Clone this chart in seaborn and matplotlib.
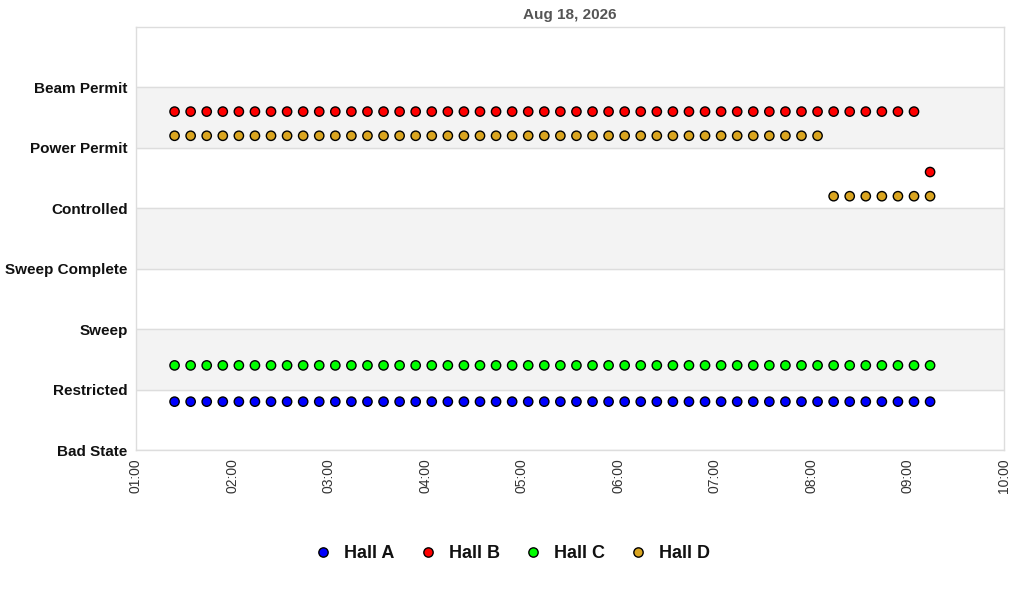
import matplotlib
matplotlib.use('Agg')
import matplotlib.pyplot as plt
import matplotlib.dates as mdates
import seaborn as sns
import pandas as pd

# states on the y axis, bottom to top
states = ['Bad State', 'Restricted', 'Sweep', 'Sweep Complete', 'Controlled', 'Power Permit', 'Beam Permit']

# samples every 10 minutes, 01:24 -> 09:14
start_time = '2026-08-18 01:24'
n_samples = 48

# (state, number of samples) runs per hall
hall_runs = {
    'Hall A': [('Restricted', 48)],
    'Hall B': [('Power Permit', 47), ('Controlled', 1)],
    'Hall C': [('Restricted', 48)],
    'Hall D': [('Power Permit', 41), ('Controlled', 7)],
}
# vertical offset of each hall inside a state row
hall_offsets = {'Hall A': -0.2, 'Hall B': 0.6, 'Hall C': 0.4, 'Hall D': 0.2}
hall_colors = {'Hall A': '#0000ff', 'Hall B': '#ff0000', 'Hall C': '#00ff00', 'Hall D': '#daa520'}

times = pd.date_range(start_time, periods=n_samples, freq='10min')
rows = []
for hall, runs in hall_runs.items():
    seq = [s for s, n in runs for _ in range(n)]
    for t, s in zip(times, seq):
        rows.append({'time': t, 'hall': hall, 'y': states.index(s) + hall_offsets[hall]})
df = pd.DataFrame(rows)

sns.set_style('white')
plt.rcParams['font.family'] = ['Liberation Sans', 'DejaVu Sans']

fig = plt.figure(figsize=(10.24, 6), dpi=100)
ax = fig.add_axes([0.1328, 0.25, 0.8477, 0.705])

for i in (1, 3, 5):
    ax.axhspan(i, i + 1, color='#f3f3f3', zorder=0)
for i in range(len(states)):
    ax.axhline(i, color='#dddddd', lw=1, zorder=1)

sns.scatterplot(data=df, x='time', y='y', hue='hall', palette=hall_colors, ax=ax,
                s=45, marker='o', edgecolor='black', linewidth=1, zorder=3)

ax.set_ylim(0, 7)
ax.set_yticks(range(len(states)))
ax.set_yticklabels(states, fontsize=11, fontweight='bold', color='#111111')
ax.set_xlim(pd.Timestamp('2026-08-18 01:00'), pd.Timestamp('2026-08-18 10:00'))
ax.xaxis.set_major_locator(mdates.HourLocator())
ax.xaxis.set_major_formatter(mdates.DateFormatter('%H:%M'))
plt.setp(ax.get_xticklabels(), rotation=90, fontsize=10, color='#333333')
ax.tick_params(axis='both', length=0, pad=6)
ax.set_xlabel('')
ax.set_ylabel('')
for sp in ax.spines.values():
    sp.set_color('#dddddd')
    sp.set_linewidth(1)

ax.set_title('Aug 18, 2026', fontsize=11, fontweight='bold', color='#555555', pad=6)

handles, labels = ax.get_legend_handles_labels()
ax.get_legend().remove()
leg = fig.legend(handles, labels, loc='center', bbox_to_anchor=(0.5, 1 - 554 / 600), ncol=4, frameon=False,
                 prop={'size': 13, 'weight': 'bold'}, handlelength=1.0, handletextpad=0.65,
                 columnspacing=1.35)
for txt in leg.get_texts():
    txt.set_color('#111111')

fig.savefig('out.png', dpi=100)
